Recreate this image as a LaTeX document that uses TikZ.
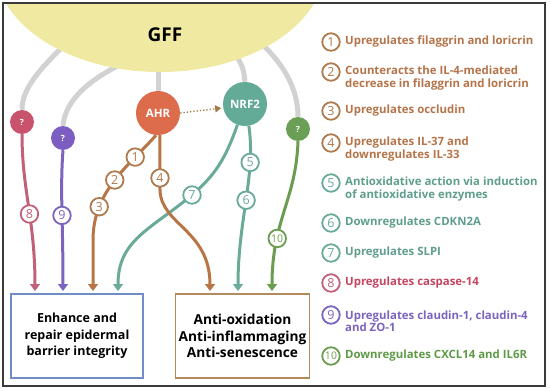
\documentclass[tikz,border=0pt]{standalone}
\usepackage{fontspec}
\setmainfont{Open Sans}
\usetikzlibrary{arrows.meta}
\definecolor{gffY}{HTML}{F0E9A2}
\definecolor{greyL}{HTML}{D2D2D2}
\definecolor{brownT}{HTML}{B5744A}
\definecolor{brownC}{HTML}{AE7A4E}
\definecolor{ahrLine}{HTML}{B87546}
\definecolor{ahrFill}{HTML}{DC6C4C}
\definecolor{tealFill}{HTML}{63AB97}
\definecolor{tealLine}{HTML}{6AAA98}
\definecolor{tealT}{HTML}{5F9F8C}
\definecolor{pinkFill}{HTML}{C9536D}
\definecolor{pinkLine}{HTML}{C2607A}
\definecolor{pinkT}{HTML}{C4455F}
\definecolor{purpFill}{HTML}{7C5EC2}
\definecolor{purpLine}{HTML}{7B64BE}
\definecolor{greenFill}{HTML}{6B9F55}
\definecolor{greenLine}{HTML}{6B9D50}
\definecolor{greenT}{HTML}{5F9A48}
\definecolor{boxBlue}{HTML}{6F8DC6}
\definecolor{boxTan}{HTML}{B08B5C}
\definecolor{dotBrown}{HTML}{A07A45}
\definecolor{frameC}{HTML}{3A3A3A}
\begin{document}
\begin{tikzpicture}[x=1pt,y=-1pt,
  qnode/.style={circle,minimum size=24pt,inner sep=0pt,text=white,font=\bfseries\fontsize{8.5}{8.5}\selectfont},
  bignode/.style={circle,minimum size=44pt,inner sep=0pt,text=white,font=\bfseries\fontsize{11.5}{11.5}\selectfont},
  greyline/.style={draw=greyL,line width=5pt},
  fline/.style={line width=3pt,-{Triangle[width=10pt,length=7pt]}},
  lab/.style={circle,draw=#1,fill=white,text=#1,line width=1.8pt,minimum size=17.5pt,inner sep=0pt,font=\fontsize{12.5}{12.5}\selectfont},
  legtxt/.style={anchor=west,align=left,inner sep=0pt,text=#1,font=\bfseries\fontsize{11.4}{12.6}\selectfont},
  resbox/.style={draw=#1,line width=1.4pt,fill=white,minimum width=132pt,minimum height=84pt,align=center}
]
\useasboundingbox (0,0) rectangle (550,391);
\fill[white] (0,0) rectangle (550,391);

% mediator nodes
\node[qnode,fill=pinkFill] (pq) at (22,122) {?};
\node[qnode,fill=purpFill] (uq) at (63,138) {?};
\node[bignode,fill=ahrFill] (ahr) at (158,113) {AHR};
\node[bignode,fill=tealFill] (nrf) at (245,104) {NRF2};
\node[qnode,fill=greenFill] (gq) at (298,129) {?};

% grey stems from GFF
\coordinate (g1) at (75,35);
\coordinate (g2) at (130,60);
\coordinate (g3) at (158,60);
\coordinate (g4) at (222,35);
\coordinate (g5) at (245,30);
\draw[greyline] (g1) .. controls (40,68) and (22,88) .. (pq.north);
\draw[greyline] (g2) .. controls (90,78) and (65,100) .. (uq.north);
\draw[greyline] (g3) -- (ahr.north);
\draw[greyline] (g4) .. controls (243,65) .. (nrf.north);
\draw[greyline] (g5) .. controls (285,60) and (298,90) .. (gq.north);

% GFF ellipse
\begin{scope}
\clip (3,3) rectangle (545,386);
\fill[gffY] (160,-35) ellipse [x radius=165, y radius=107];
\end{scope}
\node[font=\bfseries\fontsize{19}{19}\selectfont] (gff) at (165,35) {GFF};

% result boxes
\node[resbox=boxBlue,font=\bfseries\fontsize{12.5}{16.6}\selectfont] (lbox) at (77,336) {Enhance and\\repair epidermal\\barrier integrity};
\node[resbox=boxTan,font=\bfseries\fontsize{13.7}{16.6}\selectfont] (rbox) at (242.5,336) {Anti-oxidation\\Anti-inflammaging\\Anti-senescence};

% arrow end points
\coordinate (e8) at (35,291);
\coordinate (e9) at (63,291);
\coordinate (e3) at (93,291);
\coordinate (e7) at (118,291);
\coordinate (e4) at (210,291);
\coordinate (e6) at (238,291);
\coordinate (e10) at (272,291);

% colored pathways
\draw[fline,draw=pinkLine,color=pinkLine] (pq.south) .. controls (22,190) and (35,220) .. (e8)
  node[lab=pinkLine,pos=0.55] (l8) {8};
\draw[fline,draw=purpLine,color=purpLine] (uq.south) .. controls (60,190) and (63,220) .. (e9)
  node[lab=purpLine,pos=0.55] (l9) {9};
\draw[fline,draw=tealLine,color=tealLine] (nrf.-110) .. controls (225,160) and (215,175) .. (192,195)
  node[lab=tealLine] (l7) {7} .. controls (150,230) and (118,240) .. (e7);
\draw[fline,draw=ahrLine,color=ahrLine] (ahr.-95) .. controls (130,165) and (93,190) .. (93,240)
  node[lab=brownC,pos=0.25] (l1) {1} node[lab=brownC,pos=0.5] (l2) {2} node[lab=brownC,pos=0.75] (l3) {3} -- (e3);
\draw[fline,draw=ahrLine,color=ahrLine] (ahr.-85) -- (160,190) node[lab=brownC,pos=0.78] (l4) {4}
  .. controls (161,225) and (210,230) .. (e4);
\draw[fline,draw=tealLine,color=tealLine] (nrf.-80) .. controls (256,175) and (238,220) .. (e6)
  node[lab=tealLine,pos=0.25] (l5) {5} node[lab=tealLine,pos=0.5] (l6) {6};
\draw[fline,draw=greenLine,color=greenLine] (gq.south) .. controls (296,200) and (272,220) .. (e10)
  node[lab=greenLine,pos=0.7,font=\fontsize{10.5}{10.5}\selectfont] (l10) {10};

% AHR -> NRF2 dotted arrow
\draw[dotBrown,line width=1.3pt,dotted,-{Triangle[width=7pt,length=6pt]},shorten >=2pt] (ahr.east) -- (nrf.190);

% legend
\node[lab=brownC] (n1) at (331,42) {1};
\node[legtxt=brownT] (t1) at (345,42) {Upregulates filaggrin and loricrin};
\node[lab=brownC] (n2) at (331,72) {2};
\node[legtxt=brownT] (t2) at (345,78.3) {Counteracts the IL-4-mediated\\decrease in filaggrin and loricrin};
\node[lab=brownC] (n3) at (331,111) {3};
\node[legtxt=brownT] (t3) at (345,111) {Upregulates occludin};
\node[lab=brownC] (n4) at (331,143) {4};
\node[legtxt=brownT] (t4) at (345,149.3) {Upregulates IL-37 and\\downregulates IL-33};
\node[lab=tealLine] (n5) at (331,183) {5};
\node[legtxt=tealT] (t5) at (345,189.3) {Antioxidative action via induction\\of antioxidative enzymes};
\node[lab=tealLine] (n6) at (331,223) {6};
\node[legtxt=tealT] (t6) at (345,223) {Downregulates CDKN2A};
\node[lab=tealLine] (n7) at (331,253) {7};
\node[legtxt=tealT] (t7) at (345,253) {Upregulates SLPI};
\node[lab=pinkLine] (n8) at (331,283) {8};
\node[legtxt=pinkT] (t8) at (345,283) {Upregulates caspase-14};
\node[lab=purpLine] (n9) at (331,315) {9};
\node[legtxt=purpLine] (t9) at (345,321.3) {Upregulates claudin-1, claudin-4\\and ZO-1};
\node[lab=greenLine,font=\fontsize{10.5}{10.5}\selectfont] (n10) at (331,356) {10};
\node[legtxt=greenT] (t10) at (345,356) {Downregulates CXCL14 and IL6R};

% frame
\draw[frameC,line width=1.5pt] (3,3) rectangle (545,386);
\end{tikzpicture}
\end{document}
